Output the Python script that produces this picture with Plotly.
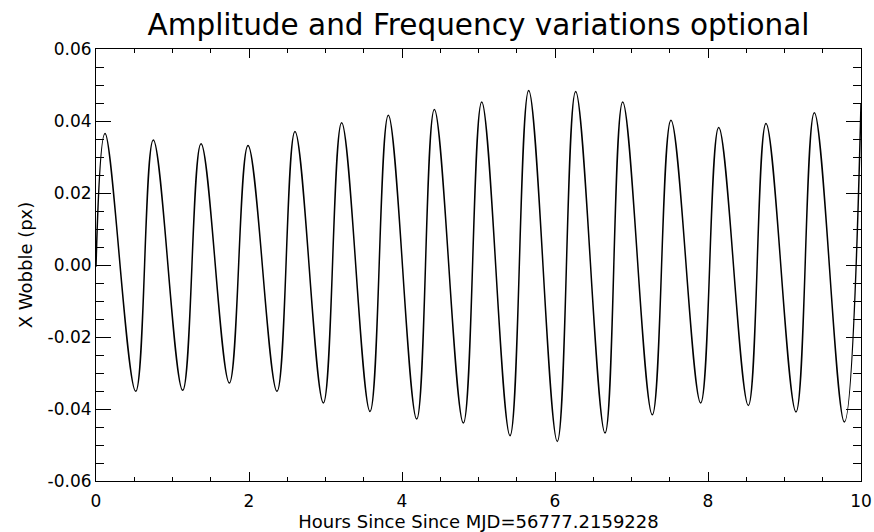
import plotly.graph_objects as go

# Extrema (hours, px)
hours = [0.0, 0.118, 0.519, 0.749, 1.133, 1.373, 1.743, 1.987, 2.366,
         2.601, 2.972, 3.211, 3.582, 3.821, 4.192, 4.423, 4.802,
         5.042, 5.412, 5.656, 6.030, 6.270, 6.654, 6.885, 7.272,
         7.516, 7.904, 8.140, 8.527, 8.758, 9.150, 9.390, 9.782, 10.0]
wobble = [-0.0005, 0.0365, -0.0351, 0.0347, -0.0348, 0.0337, -0.0328, 0.0332, -0.0351,
          0.0371, -0.0383, 0.0395, -0.0407, 0.0416, -0.0428, 0.0432, -0.0439,
          0.0453, -0.0474, 0.0485, -0.0490, 0.0482, -0.0467, 0.0453, -0.0416,
          0.0402, -0.0383, 0.0382, -0.0390, 0.0393, -0.0408, 0.0423, -0.0436, 0.0448]

x_tickvals = [0, 2, 4, 6, 8, 10]
x_ticktext = ["0", "2", "4", "6", "8", "10"]
y_tickvals = [-0.06, -0.04, -0.02, 0.0, 0.02, 0.04, 0.06]
y_ticktext = ["-0.06", "-0.04", "-0.02", "0.00", "0.02", "0.04", "0.06"]

FONT = "DejaVu Sans, Liberation Sans, Arial, sans-serif"

fig = go.Figure()
fig.add_trace(go.Scatter(
    x=hours, y=wobble, mode="lines",
    line=dict(color="black", width=1.5, shape="spline", smoothing=1.1),
    showlegend=False, hoverinfo="skip",
))

fig.update_layout(
    width=874, height=532,
    margin=dict(l=96, r=13, t=48.5, b=50.5, autoexpand=False),
    paper_bgcolor="white", plot_bgcolor="white",
    font=dict(family=FONT, color="black", size=17),
    title=dict(text="Amplitude and Frequency variations optional",
               x=0.5475, xanchor="center", y=1 - 35 / 532, yanchor="bottom",
               yref="container", font=dict(size=29.5, family=FONT, color="black")),
)

fig.update_xaxes(
    range=[0, 10], tickvals=x_tickvals, ticktext=x_ticktext,
    showgrid=False, zeroline=False, automargin=False,
    showline=True, linecolor="black", linewidth=1, mirror="allticks",
    ticks="inside", ticklen=9, tickwidth=1, tickcolor="black",
    minor=dict(dtick=0.5, ticks="inside", ticklen=4, tickwidth=1, tickcolor="black", showgrid=False),
    tickfont=dict(size=17, family=FONT, color="black"), ticklabelstandoff=5,
    title=dict(text="Hours Since Since MJD=56777.2159228", standoff=0,
               font=dict(size=18, family=FONT, color="black")),
)
fig.update_yaxes(
    range=[-0.06, 0.06], tickvals=y_tickvals, ticktext=y_ticktext,
    showgrid=False, zeroline=False, automargin=False,
    showline=True, linecolor="black", linewidth=1, mirror="allticks",
    ticks="inside", ticklen=15, tickwidth=1, tickcolor="black",
    minor=dict(dtick=0.005, ticks="inside", ticklen=8, tickwidth=1, tickcolor="black", showgrid=False),
    tickfont=dict(size=17, family=FONT, color="black"), ticklabelstandoff=0,
    title=dict(text="X Wobble (px)", standoff=10,
               font=dict(size=18, family=FONT, color="black")),
)

fig.write_html("out.html", config={"displayModeBar": False},
               post_script="document.body.style.margin='0';document.body.style.padding='0';document.body.style.overflow='hidden';")
